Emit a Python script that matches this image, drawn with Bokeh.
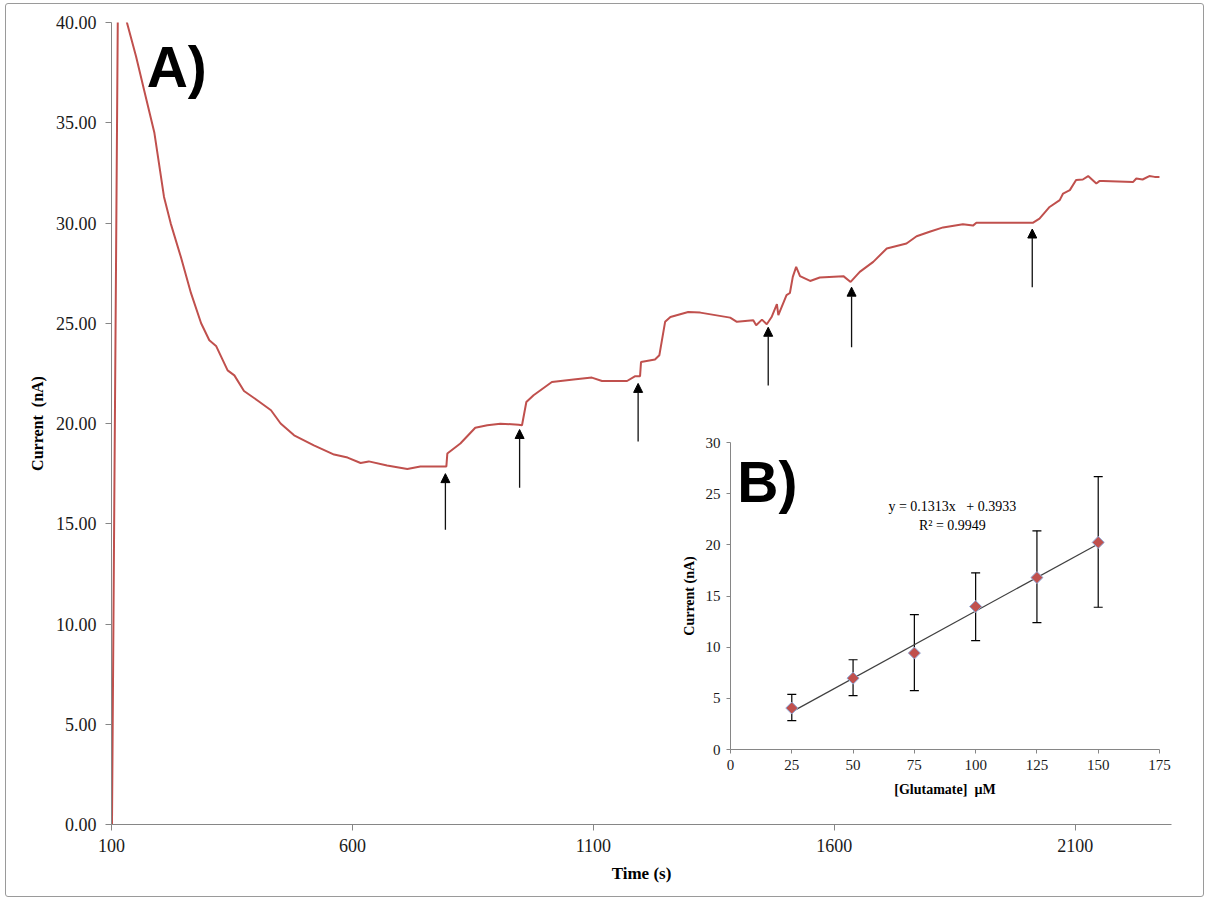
import numpy as np
from bokeh.plotting import figure
from bokeh.models import (Range1d, FixedTicker, Label, Arrow, NormalHead, Whisker,
                          TeeHead, ColumnDataSource, NumeralTickFormatter, InlineStyleSheet)
from bokeh.layouts import column
from bokeh.embed import file_html
from bokeh.resources import INLINE

# ---------------- Panel A data ----------------
time_s = [101, 113, 120, 132, 151, 168, 189, 209, 223, 244,
          265, 286, 303, 317, 341, 355, 375, 406, 431, 451,
          479, 520, 562, 590, 617, 634, 672, 714, 741, 795,
          797, 824, 855, 880, 907, 945, 952, 961, 976, 1014,
          1059, 1097, 1118, 1170, 1187, 1197, 1199, 1228, 1237, 1249,
          1260, 1297, 1322, 1384, 1398, 1432, 1438, 1450, 1460, 1470,
          1481, 1484, 1501, 1508, 1514, 1521, 1529, 1550, 1570, 1619,
          1634, 1653, 1681, 1709, 1750, 1771, 1798, 1826, 1867, 1888,
          1895, 2012, 2026, 2047, 2068, 2075, 2089, 2102, 2116, 2127,
          2144, 2151, 2158, 2220, 2227, 2240, 2254, 2265, 2275]
current_nA = [0.0, 40.0, 44.5, 40.0, 38.3, 36.6, 34.5, 31.3, 29.97, 28.3,
              26.5, 25.0, 24.15, 23.87, 22.65, 22.4, 21.62, 21.1, 20.66, 20.0,
              19.41, 18.91, 18.45, 18.3, 18.03, 18.11, 17.91, 17.73, 17.86, 17.86,
              18.5, 19.0, 19.79, 19.91, 19.99, 19.94, 19.91, 21.07, 21.41, 22.07,
              22.19, 22.29, 22.12, 22.12, 22.36, 22.36, 23.07, 23.19, 23.4, 25.07,
              25.31, 25.56, 25.53, 25.28, 25.07, 25.15, 24.9, 25.18, 24.95, 25.31,
              25.95, 25.4, 26.4, 26.51, 27.31, 27.81, 27.35, 27.11, 27.28, 27.35,
              27.06, 27.56, 28.06, 28.73, 28.98, 29.34, 29.56, 29.78, 29.94, 29.87,
              30.01, 30.01, 30.22, 30.80, 31.14, 31.47, 31.64, 32.14, 32.17, 32.34,
              31.97, 32.1, 32.1, 32.04, 32.22, 32.17, 32.34, 32.3, 32.3]

# injection arrows
arrow_time = [793, 947, 1193, 1463, 1636, 2011]
arrow_tip = [17.5, 19.7, 22.0, 24.8, 26.8, 29.7]
arrow_tail = [14.7, 16.8, 19.1, 21.9, 23.8, 26.8]

x_ticks_A = [100, 600, 1100, 1600, 2100]
y_ticks_A = [0, 5, 10, 15, 20, 25, 30, 35, 40]

# ---------------- Panel B data ----------------
glutamate_uM = [25, 50, 75, 100, 125, 150]
current_B = [4.05, 6.97, 9.42, 13.97, 16.8, 20.24]
err_upper = [5.38, 8.77, 13.18, 17.26, 21.37, 26.67]
err_lower = [2.83, 5.27, 5.76, 10.64, 12.4, 13.9]
fit_slope = 0.1313
fit_intercept = 0.3933
x_ticks_B = [0, 25, 50, 75, 100, 125, 150, 175]
y_ticks_B = [0, 5, 10, 15, 20, 25, 30]

SERIF = "Liberation Serif"
SANS = "Liberation Sans"
AXIS_GRAY = "#868686"
RED = "#C0504D"
NB = "\u00a0"

BL, BR = 111, 34   # shared left/right borders (column aligns them)

# ---------------- Main figure ----------------
p = figure(width=1205, height=900, x_range=Range1d(100, 2300), y_range=Range1d(0, 40),
           output_backend="svg", toolbar_location=None,
           min_border_left=BL, min_border_right=BR, min_border_top=22, min_border_bottom=76)
p.outline_line_color = None
p.grid.visible = False
p.background_fill_color = "white"
p.border_fill_color = "white"
p.stylesheets = [InlineStyleSheet(css=(
    ":host::after { content: ''; position: absolute; left: 5px; top: 3px; right: 1px; "
    "bottom: 3px; border: 1px solid #9a9a9a; border-radius: 3px; pointer-events: none; "
    "z-index: 100; }"))]

p.line(time_s, current_nA, line_color=RED, line_width=2)

arrow_src = ColumnDataSource(dict(x=arrow_time, tip=arrow_tip, tail=arrow_tail))
p.add_layout(Arrow(x_start="x", y_start="tail", x_end="x", y_end="tip", source=arrow_src,
                   line_color="#111111", line_width=1.3,
                   end=NormalHead(size=9, fill_color="black", line_color="black")))

p.xaxis.ticker = FixedTicker(ticks=x_ticks_A)
p.yaxis.ticker = FixedTicker(ticks=y_ticks_A)
p.yaxis.formatter = NumeralTickFormatter(format="0.00")
for ax in (p.xaxis[0], p.yaxis[0]):
    ax.axis_line_color = AXIS_GRAY
    ax.major_tick_line_color = AXIS_GRAY
    ax.minor_tick_line_color = None
    ax.major_tick_in = 0
    ax.major_tick_out = 6
    ax.major_label_text_font = SERIF
    ax.major_label_text_font_size = "18px"
    ax.major_label_text_color = "#1a1a1a"
    ax.axis_label_text_font = SERIF
    ax.axis_label_text_font_style = "bold"
    ax.axis_label_text_color = "black"
p.xaxis.axis_label = "Time (s)"
p.xaxis.axis_label_text_font_size = "17px"
p.xaxis.major_label_standoff = 8
p.xaxis.axis_label_standoff = 9
p.yaxis.axis_label = "Current" + NB + NB + "(nA)"
p.yaxis.axis_label_text_font_size = "16px"
p.yaxis.major_label_standoff = 9
p.yaxis.axis_label_standoff = 7

p.add_layout(Label(x=173, y=37.77, text="A)", text_font=SANS, text_font_style="bold",
                   text_font_size="57px", text_color="black", text_baseline="alphabetic"))

# ---------------- Inset figure ----------------
ins = figure(width=BL + 429 + BR, height=380, x_range=Range1d(0, 175), y_range=Range1d(0, 30),
             output_backend="svg", toolbar_location=None,
             min_border_left=BL, min_border_right=BR, min_border_top=17, min_border_bottom=56)
ins.outline_line_color = None
ins.grid.visible = False
ins.background_fill_alpha = 0
ins.border_fill_alpha = 0
ins.styles = {"position": "absolute", "left": f"{730 - BL}px", "top": "425px"}

ins.line([glutamate_uM[0], glutamate_uM[-1]],
         [fit_slope * glutamate_uM[0] + fit_intercept, fit_slope * glutamate_uM[-1] + fit_intercept],
         line_color="#404040", line_width=1.2)

b_src = ColumnDataSource(dict(x=glutamate_uM, y=current_B, up=err_upper, lo=err_lower))
ins.add_layout(Whisker(base="x", upper="up", lower="lo", source=b_src, line_color="black",
                       line_width=1.2,
                       upper_head=TeeHead(size=9, line_color="black", line_width=1.2),
                       lower_head=TeeHead(size=9, line_color="black", line_width=1.2)))
ins.scatter("x", "y", source=b_src, marker="square", angle=np.pi / 4, size=8.5,
            fill_color=RED, line_color="#8EA9D8", line_width=1)

ins.xaxis.ticker = FixedTicker(ticks=x_ticks_B)
ins.yaxis.ticker = FixedTicker(ticks=y_ticks_B)
for ax in (ins.xaxis[0], ins.yaxis[0]):
    ax.axis_line_color = AXIS_GRAY
    ax.major_tick_line_color = AXIS_GRAY
    ax.minor_tick_line_color = None
    ax.major_tick_in = 0
    ax.major_tick_out = 4
    ax.major_label_text_font = SERIF
    ax.major_label_text_font_size = "15px"
    ax.major_label_text_color = "#1a1a1a"
    ax.axis_label_text_font = SERIF
    ax.axis_label_text_font_style = "bold"
    ax.axis_label_text_font_size = "14px"
    ax.axis_label_text_color = "black"
ins.xaxis.axis_label = "[Glutamate]" + NB + NB + "µM"
ins.xaxis.major_label_standoff = 6
ins.xaxis.axis_label_standoff = 9
ins.yaxis.axis_label = "Current (nA)"
ins.yaxis.major_label_standoff = 6
ins.yaxis.axis_label_standoff = 6

ins.add_layout(Label(x=90.5, y=23.75, text="y = 0.1313x" + NB + NB + " + 0.3933", text_font=SERIF,
                     text_font_size="14px", text_align="center", text_baseline="middle",
                     text_color="black"))
ins.add_layout(Label(x=90.5, y=21.9, text="R² = 0.9949", text_font=SERIF,
                     text_font_size="14px", text_align="center", text_baseline="middle",
                     text_color="black"))
ins.add_layout(Label(x=2.8, y=26.1, text="B)", text_font=SANS, text_font_style="bold",
                     text_font_size="57px", text_color="black", text_baseline="alphabetic"))

layout = column(p, ins)
open("out.html", "w").write(file_html(layout, INLINE))
